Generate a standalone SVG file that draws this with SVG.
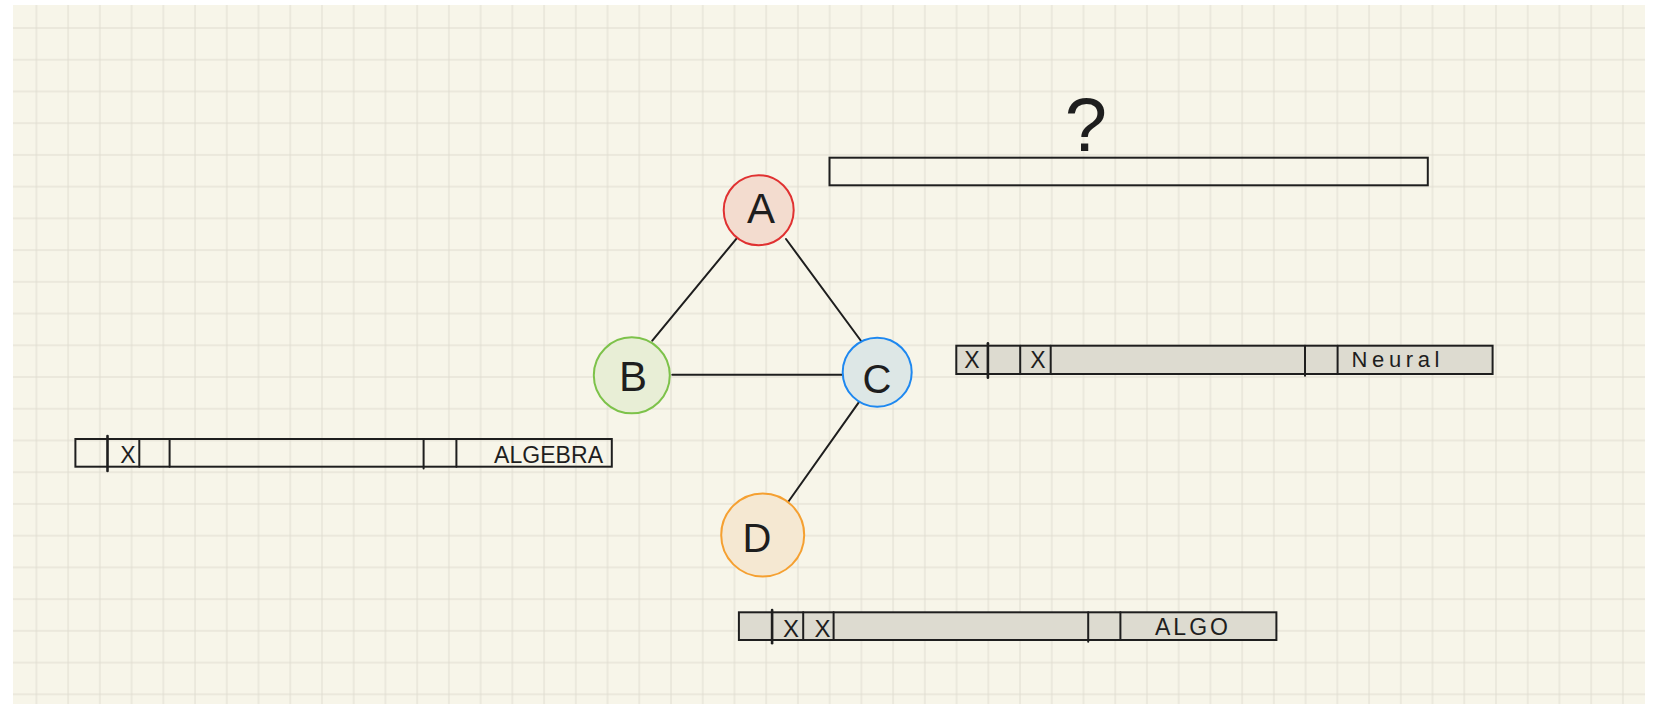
<svg xmlns="http://www.w3.org/2000/svg" width="1660" height="704" viewBox="0 0 1660 704">
  <style>
    .paper { fill: #f7f5e9; }
    .edge { stroke: #1e1e1e; stroke-width: 2; stroke-linecap: round; fill: none; }
    .bar { stroke: #1e1e1e; stroke-width: 2; }
    .bar-empty { fill: none; }
    .bar-grey { fill: #dddbd0; }
    .div { stroke: #1e1e1e; stroke-width: 2; stroke-linecap: round; }
    .div-bold { stroke: #1e1e1e; stroke-width: 2.6; stroke-linecap: round; }
    .lbl { font-family: "Liberation Sans", Arial, sans-serif; fill: #1e1e1e; text-anchor: middle; }
    .node-letter { font-size: 42px; }
    .mark { font-size: 23px; }
  </style>
  <defs>
    <pattern id="grid" patternUnits="userSpaceOnUse" x="3.67" y="-4.73" width="31.73" height="31.73">
      <path d="M1 0 V31.73 M0 1 H31.73" stroke="#dfdcd0" stroke-width="1" fill="none"/>
    </pattern>
  </defs>

  <!-- page -->
  <rect width="1660" height="704" fill="#ffffff"/>
  <rect class="paper" x="13" y="5" width="1632" height="699"/>
  <rect x="13" y="5" width="1632" height="699" fill="url(#grid)"/>

  <!-- connectors -->
  <g id="connectors">
    <line class="edge" x1="736.7" y1="238.3" x2="652.3" y2="340.7"/>
    <line class="edge" x1="786" y1="239" x2="863.3" y2="344"/>
    <line class="edge" x1="672.3" y1="374.7" x2="846.7" y2="374.7"/>
    <line class="edge" x1="859.3" y1="401.7" x2="786" y2="505"/>
  </g>

  <!-- graph nodes -->
  <g id="node-a">
    <circle cx="758.7" cy="210.2" r="35" fill="#f3dccf" stroke="#e03131" stroke-width="2"/>
    <text class="lbl node-letter" x="761" y="223">A</text>
  </g>
  <g id="node-b">
    <circle cx="631.8" cy="375.3" r="38" fill="#e8eed6" stroke="#7dc24a" stroke-width="2"/>
    <text class="lbl node-letter" x="633" y="391">B</text>
  </g>
  <g id="node-c">
    <circle cx="877.2" cy="372.2" r="34.5" fill="#dde7e6" stroke="#1e88f0" stroke-width="2"/>
    <text class="lbl node-letter" x="877" y="393" style="font-size:40px">C</text>
  </g>
  <g id="node-d">
    <circle cx="762.7" cy="535" r="41.5" fill="#f5e8d2" stroke="#f5a031" stroke-width="2"/>
    <text class="lbl node-letter" x="757" y="552" style="font-size:40px">D</text>
  </g>

  <!-- open slot with question -->
  <g id="slot-question">
    <rect class="bar bar-empty" x="829.5" y="157.7" width="598.3" height="27.6"/>
    <text class="lbl" x="1086" y="151" style="font-size:76px">?</text>
  </g>

  <!-- ALGEBRA bar -->
  <g id="bar-algebra">
    <rect class="bar bar-empty" x="75.4" y="439" width="536.4" height="27.7"/>
    <line class="div-bold" x1="107.5" y1="436" x2="107.5" y2="471"/>
    <line class="div" x1="139.3" y1="439" x2="139.3" y2="466.7"/>
    <line class="div" x1="169.6" y1="439" x2="169.6" y2="466.7"/>
    <line class="div" x1="423.6" y1="439" x2="423.6" y2="468.5"/>
    <line class="div" x1="456.4" y1="439" x2="456.4" y2="466.7"/>
    <text class="lbl mark" x="128" y="463">X</text>
    <text class="lbl" x="548.5" y="462.5" style="font-size:23px" textLength="109">ALGEBRA</text>
  </g>

  <!-- Neural bar -->
  <g id="bar-neural">
    <rect class="bar bar-grey" x="956.3" y="345.7" width="536.3" height="28.3"/>
    <line class="div-bold" x1="987.9" y1="343.3" x2="987.9" y2="377.7"/>
    <line class="div" x1="1020.2" y1="345.7" x2="1020.2" y2="374"/>
    <line class="div" x1="1050.7" y1="345.7" x2="1050.7" y2="374"/>
    <line class="div" x1="1305" y1="345.7" x2="1305" y2="375.7"/>
    <line class="div" x1="1337.6" y1="345.7" x2="1337.6" y2="374"/>
    <text class="lbl mark" x="972" y="368">X</text>
    <text class="lbl mark" x="1037.8" y="368">X</text>
    <text class="lbl" x="1395.5" y="367" style="font-size:22px" textLength="88">Neural</text>
  </g>

  <!-- ALGO bar -->
  <g id="bar-algo">
    <rect class="bar bar-grey" x="738.9" y="612.3" width="537.5" height="27.7"/>
    <line class="div-bold" x1="772.1" y1="610" x2="772.1" y2="643.3"/>
    <line class="div" x1="803.2" y1="612.3" x2="803.2" y2="640"/>
    <line class="div" x1="833.6" y1="612.3" x2="833.6" y2="640"/>
    <line class="div" x1="1088.2" y1="612.3" x2="1088.2" y2="641.7"/>
    <line class="div" x1="1120.4" y1="612.3" x2="1120.4" y2="640"/>
    <text class="lbl mark" x="791" y="636.5" style="font-size:24px">X</text>
    <text class="lbl mark" x="822.6" y="636.5" style="font-size:24px">X</text>
    <text class="lbl" x="1191.5" y="635" style="font-size:23px" textLength="73">ALGO</text>
  </g>
</svg>
